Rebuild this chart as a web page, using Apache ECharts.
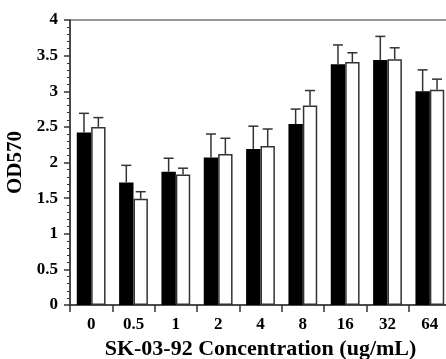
<!DOCTYPE html>
<html>
<head>
<meta charset="utf-8">
<script src="https://cdn.jsdelivr.net/npm/echarts@6/dist/echarts.min.js"></script>
<style>
  html, body { margin: 0; padding: 0; background: #fff; }
  #chart { width: 446px; height: 359px; }
</style>
</head>
<body>
<div id="chart"></div>
<script>
const categories = ['0', '0.5', '1', '2', '4', '8', '16', '32', '64'];
const blackValues = [2.42, 1.72, 1.87, 2.07, 2.19, 2.54, 3.38, 3.44, 3.00];
const blackErrors = [0.27, 0.24, 0.19, 0.33, 0.32, 0.21, 0.27, 0.33, 0.30];
const whiteValues = [2.50, 1.49, 1.83, 2.12, 2.23, 2.80, 3.41, 3.45, 3.02];
const whiteErrors = [0.13, 0.10, 0.09, 0.22, 0.24, 0.21, 0.13, 0.16, 0.15];
const yTicks = ['0', '0.5', '1', '1.5', '2', '2.5', '3', '3.5', '4'];

const FONT = '"Liberation Serif", "Times New Roman", serif';
const AXIS = '#333';

// error bars: vertical line up from the bar top with a cap
function errorSeries(values, errors, offset) {
  return {
    type: 'custom',
    z: 5,
    data: values.map((v, i) => [i, v, errors[i]]),
    renderItem(params, api) {
      const idx = api.value(0), val = api.value(1), err = api.value(2);
      const catW = api.size([1, 0])[0];
      const base = api.coord([idx, val]);
      const top = api.coord([idx, val + err]);
      const x = base[0] + offset * catW;
      const style = { stroke: AXIS, lineWidth: 1.5 };
      return {
        type: 'group',
        children: [
          { type: 'line', shape: { x1: x, y1: base[1], x2: x, y2: top[1] }, style },
          { type: 'line', shape: { x1: x - 5, y1: top[1], x2: x + 5, y2: top[1] }, style }
        ]
      };
    }
  };
}

const chart = echarts.init(document.getElementById('chart'));
chart.setOption({
  animation: false,
  grid: {
    left: 70, top: 20, width: 381, height: 285,
    outerBoundsMode: 'none', containLabel: false,
    show: true, borderColor: AXIS, borderWidth: 1
  },
  xAxis: {
    type: 'category',
    data: categories,
    name: 'SK-03-92 Concentration (ug/mL)',
    nameLocation: 'middle',
    nameGap: 31,
    nameTextStyle: { fontFamily: FONT, fontWeight: 'bold', fontSize: 22, color: '#000' },
    axisLine: { lineStyle: { color: AXIS, width: 1.5 } },
    axisTick: { show: true, length: 7, lineStyle: { color: AXIS, width: 1.5 } },
    axisLabel: { fontFamily: FONT, fontWeight: 'bold', fontSize: 17, color: '#000', margin: 11 }
  },
  yAxis: {
    type: 'value',
    min: 0,
    max: 4,
    interval: 0.5,
    name: 'OD570',
    nameLocation: 'middle',
    nameGap: 42,
    nameTextStyle: { fontFamily: FONT, fontWeight: 'bold', fontSize: 21, color: '#000' },
    axisLine: { show: true, lineStyle: { color: AXIS, width: 1.5 } },
    axisTick: { show: true, length: 6, lineStyle: { color: AXIS, width: 1.5 } },
    minorTick: { show: true, splitNumber: 5, length: 3, lineStyle: { color: AXIS, width: 1 } },
    splitLine: { show: false },
    axisLabel: {
      fontFamily: FONT, fontWeight: 'bold', fontSize: 17, color: '#000', margin: 12,
      formatter: v => yTicks[Math.round(v / 0.5)]
    }
  },
  series: [
    {
      type: 'bar',
      data: blackValues,
      barGap: '0%',
      barCategoryGap: '32%',
      itemStyle: { color: '#000' }
    },
    {
      type: 'bar',
      data: whiteValues,
      barGap: '0%',
      barCategoryGap: '32%',
      itemStyle: { color: '#fff', borderColor: AXIS, borderWidth: 1.5 }
    },
    errorSeries(blackValues, blackErrors, -0.17),
    errorSeries(whiteValues, whiteErrors, 0.17)
  ]
});
</script>
</body>
</html>
